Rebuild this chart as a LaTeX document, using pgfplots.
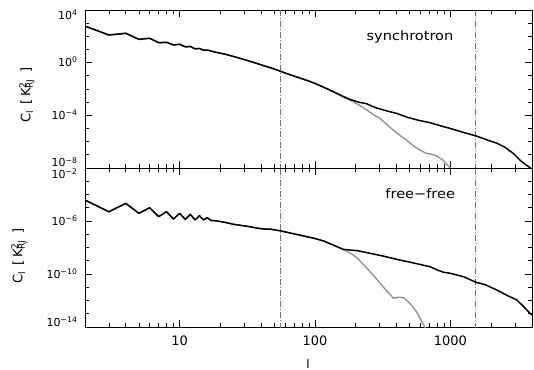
\documentclass[border=0pt]{standalone}
\usepackage{fontspec}
\setmainfont{DejaVu Sans}
\usepackage{graphicx}
\usepackage{pgfplots}
\pgfplotsset{compat=1.18}
\newcommand{\yt}[2]{\raisebox{#1}{10\textsuperscript{#2}}}
\newcommand{\ylab}{C\textsubscript{l}\, [\,K\rlap{\textsuperscript{2}}\textsubscript{RJ}\, ]}
\pgfplotsset{
  panel/.style={
    scale only axis, width=447bp,
    xmin=2, xmax=4000,
    tick pos=both, tick align=inside,
    major tick length=7bp, minor tick length=4bp,
    axis line style={line width=0.8bp},
    every tick/.append style={black, line width=0.7bp},
    xtick={10,100,1000},
    minor xtick={2,3,4,5,6,7,8,9,20,30,40,50,60,70,80,90,200,300,400,500,600,700,800,900,2000,3000,4000},
    yticklabel style={anchor=base east, font=\fontsize{11bp}{12bp}\selectfont, xshift=-4bp},
    xticklabel style={font=\fontsize{13bp}{15bp}\selectfont, yshift=-5bp},
  },
  dd/.style={black!55, line width=0.8bp, dash pattern=on 6bp off 2bp on 1bp off 2bp, forget plot},
  blk/.style={black, line width=1.5bp, line join=round},
  gry/.style={black!42, line width=1.4bp, line join=round},
}
\begin{document}
\begin{tikzpicture}
\path[use as bounding box] (0,0) rectangle (534bp,370bp);
% ---------------- top panel: synchrotron
\begin{loglogaxis}[panel, at={(85bp,202bp)}, anchor=south west, height=158bp,
  ymin=1e-8, ymax=1e4,
  ytick={1e4,1,1e-4,1e-8},
  yticklabels={\yt{-9.5bp}{4},\yt{-4bp}{0},\yt{-4bp}{−4},\yt{1bp}{−8}},
  minor ytick={1e3,1e2,1e1,1e-1,1e-2,1e-3,1e-5,1e-6,1e-7},
  xticklabels={},
]
\addplot[dd] coordinates {(55,1e-9) (55,1e5)};
\addplot[dd] coordinates {(1530,1e-9) (1530,1e5)};
\addplot[gry] coordinates {
(2,6.0e2) (3,1.26e2) (4,1.7e2) (5,5.9e1) (6,7.1e1) (7,3.3e1) (8,3.5e1) (9,2.2e1) (10,2.5e1)
(11,1.6e1) (12,1.7e1) (13,1.12e1) (14,1.2e1) (15,8.9) (16,9.1) (18,6.6) (20,5.2) (22,4.2)
(25,2.95) (28,2.1) (32,1.41) (37,0.89) (42,0.575) (48,0.38) (55,0.229) (63,0.138) (72,0.087)
(80,0.060) (90,0.040) (100,0.0263) (115,0.0141) (135,6.3e-3) (150,3.8e-3) (165,2.1e-3)
(181,1.41e-3) (210,6.3e-4) (240,2.57e-4) (270,1.12e-4) (300,6.0e-5) (340,2.0e-5) (377,7.8e-6)
(420,3.16e-6) (472,1.35e-6) (530,5.0e-7) (592,2.34e-7) (660,1.32e-7) (720,1.12e-7) (785,8.7e-8)
(877,4.1e-8) (977,1.26e-8) (1000,1.0e-8)
};
\addplot[blk] coordinates {
(2,6.0e2) (3,1.26e2) (4,1.7e2) (5,5.9e1) (6,7.1e1) (7,3.3e1) (8,3.5e1) (9,2.2e1) (10,2.5e1)
(11,1.6e1) (12,1.7e1) (13,1.12e1) (14,1.2e1) (15,8.9) (16,9.1) (18,6.6) (20,5.2) (22,4.2)
(25,2.95) (28,2.1) (32,1.41) (37,0.89) (42,0.575) (48,0.38) (55,0.229) (63,0.138) (72,0.087)
(80,0.060) (90,0.040) (100,0.0263) (115,0.0141) (135,6.6e-3) (155,3.3e-3) (180,1.66e-3)
(210,1.0e-3) (240,7.6e-4) (280,3.8e-4) (340,2.14e-4) (400,1.41e-4) (480,7.1e-5) (580,4.2e-5)
(700,2.8e-5) (850,1.58e-5) (1000,1.0e-5) (1250,5.0e-6) (1550,2.7e-6) (1900,1.26e-6)
(2200,7.6e-7) (2500,4.0e-7) (2900,1.32e-7) (3300,3.5e-8) (3600,1.78e-8) (3900,1.0e-8)
};
\node[font=\fontsize{13bp}{15bp}\selectfont] at (rel axis cs:0.727,0.83) {\scalebox{1.12}[1]{synchrotron}};
\end{loglogaxis}
% ---------------- bottom panel: free-free
\begin{loglogaxis}[panel, at={(85bp,43bp)}, anchor=south west, height=159bp,
  ymin=1e-14, ymax=1e-2,
  ytick={1e-2,1e-6,1e-10,1e-14},
  yticklabels={\yt{-10.5bp}{−2},\yt{-4bp}{−6},\yt{-4bp}{−10},\yt{1bp}{−14}},
  minor ytick={1e-3,1e-4,1e-5,1e-7,1e-8,1e-9,1e-11,1e-12,1e-13},
  xticklabels={10,100,1000},
]
\addplot[dd] coordinates {(55,1e-15) (55,1e-1)};
\addplot[dd] coordinates {(1530,1e-15) (1530,1e-1)};
\addplot[gry] coordinates {
(2,3.8e-5) (3,5.0e-6) (4,2.14e-5) (5,3.8e-6) (6,1.0e-5) (7,2.14e-6) (8,5.0e-6) (9,1.41e-6)
(10,3.8e-6) (11,1.32e-6) (12,3.16e-6) (13,1.2e-6) (14,2.5e-6) (15,1.2e-6) (16,1.78e-6)
(17,1.12e-6) (19,1.0e-6) (22,7.6e-7) (25,5.6e-7) (29,4.5e-7) (33,3.7e-7) (38,2.8e-7)
(42,2.5e-7) (47,2.4e-7) (56,1.78e-7) (65,1.26e-7) (80,7.9e-8) (98,5.0e-8) (115,3.16e-8)
(135,1.6e-8) (162,6.9e-9) (185,3.5e-9) (205,1.58e-9) (229,4.8e-10) (265,1.0e-10)
(302,2.0e-11) (340,5.0e-12) (380,1.48e-12) (415,1.78e-12) (452,1.58e-12) (500,6.3e-13)
(562,1.41e-13) (646,1.0e-14) (660,5e-15)
};
\addplot[blk] coordinates {
(2,3.8e-5) (3,5.0e-6) (4,2.14e-5) (5,3.8e-6) (6,1.0e-5) (7,2.14e-6) (8,5.0e-6) (9,1.41e-6)
(10,3.8e-6) (11,1.32e-6) (12,3.16e-6) (13,1.2e-6) (14,2.5e-6) (15,1.2e-6) (16,1.78e-6)
(17,1.12e-6) (19,1.0e-6) (22,7.6e-7) (25,5.6e-7) (29,4.5e-7) (33,3.7e-7) (38,2.8e-7)
(42,2.5e-7) (47,2.4e-7) (56,1.78e-7) (65,1.26e-7) (80,7.9e-8) (98,5.0e-8) (115,3.16e-8)
(135,1.6e-8) (162,7.2e-9) (185,6.3e-9) (205,5.8e-9) (250,3.8e-9) (320,2.24e-9) (403,1.26e-9)
(500,7.9e-10) (600,5.2e-10) (708,3.5e-10) (800,2.0e-10) (890,1.35e-10) (1000,1.12e-10)
(1245,6.3e-11) (1550,2.34e-11) (1800,1.58e-11) (2190,6.3e-12) (2600,2.5e-12) (3090,1.1e-12)
(3500,3.16e-13) (3980,7.9e-14)
};
\node[font=\fontsize{13bp}{15bp}\selectfont] at (rel axis cs:0.75,0.836) {\scalebox{1.12}[1]{free−free}};
\end{loglogaxis}
% axis titles
\node[rotate=90, font=\fontsize{13bp}{15bp}\selectfont] at (27bp,275bp) {\ylab};
\node[rotate=90, font=\fontsize{13bp}{15bp}\selectfont] at (19bp,114bp) {\ylab};
\node[font=\fontsize{12bp}{14bp}\selectfont, anchor=base, inner sep=0pt] at (308bp,2bp) {l};
\end{tikzpicture}
\end{document}
